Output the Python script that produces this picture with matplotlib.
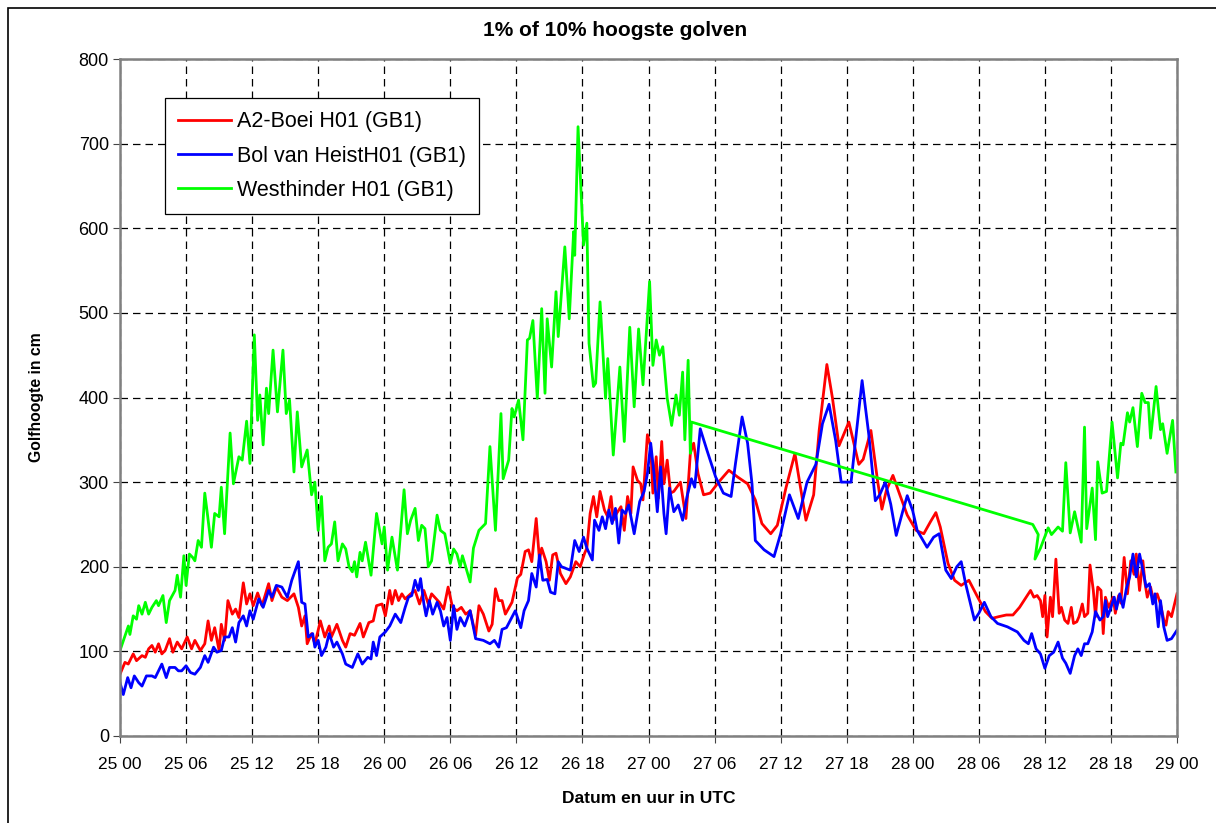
import matplotlib
matplotlib.use("Agg")
import matplotlib.pyplot as plt
from matplotlib.patches import Rectangle

plt.rcParams['font.family'] = ['Liberation Sans', 'DejaVu Sans']

# hours since 25 00 UTC and wave heights (cm)
tick_labels = ["25 00", "25 06", "25 12", "25 18", "26 00", "26 06", "26 12", "26 18",
               "27 00", "27 06", "27 12", "27 18", "28 00", "28 06", "28 12", "28 18", "29 00"]
series_names = ["A2-Boei H01 (GB1)", "Bol van HeistH01 (GB1)", "Westhinder H01 (GB1)"]

red_h = [0, 0.45, 0.75, 1.2, 1.5, 2, 2.3, 2.6, 2.9, 3.2, 3.5, 3.8, 4.1, 4.5, 4.8, 5.2, 5.6, 6.1,
         6.5, 6.8, 7.3, 7.7, 8.0, 8.3, 8.6, 9.0, 9.2, 9.5, 9.8, 10.2, 10.5, 10.8, 11.2, 11.5,
         11.8, 12.1, 12.5, 12.9, 13.5, 13.8, 14.2, 14.7, 15.2, 15.8, 16.2, 16.5, 16.8, 17.0,
         17.4, 17.7, 18.2, 18.6, 19.0, 19.2, 19.7, 20.2, 20.5, 20.9, 21.3, 21.8, 22.1, 22.6,
         23.0, 23.3, 23.8, 24.1, 24.5, 24.7, 25.0, 25.3, 25.6, 25.9, 26.4, 26.8, 27.2, 27.6,
         28.0, 28.3, 29.0, 29.4, 29.8, 30.2, 30.6, 31.0, 31.4, 31.8, 32.3, 32.6, 33.0, 33.5,
         33.8, 34.1, 34.4, 34.7, 35.0, 35.6, 36.1, 36.4, 36.8, 37.1, 37.4, 37.8, 38.1, 38.3,
         38.7, 39.0, 39.3, 39.6, 40.0, 40.5, 40.9, 41.4, 41.8, 42.2, 42.4, 42.7, 43.0, 43.3,
         43.6, 44.0, 44.3, 44.6, 44.8, 45.1, 45.5, 45.8, 46.1, 46.4, 46.6, 47.0, 47.3, 47.5,
         47.9, 48.2, 48.4, 48.7, 48.9, 49.2, 49.4, 49.7, 50.0, 50.3, 50.9, 51.4, 51.8, 52.1,
         52.5, 53.0, 53.6, 54.5, 55.3, 56.1, 57.0, 57.7, 58.3, 59.1, 59.7, 60.5, 61.3, 61.8,
         62.3, 63.0, 63.5, 64.2, 64.7, 65.3, 66.2, 67.1, 67.5, 68.2, 68.8, 69.2, 69.6, 70.2,
         70.8, 71.5, 72.3, 73.0, 73.6, 74.1, 74.5, 75.2, 75.8, 76.4, 77.1, 77.9, 78.6, 79.2,
         79.8, 80.5, 81.1, 81.7, 82.3, 82.7, 83.0, 83.3, 83.6, 83.8, 84.0, 84.2, 84.5, 84.7,
         85.0, 85.3, 85.5, 85.8, 86.1, 86.4, 86.6, 86.9, 87.1, 87.4, 87.6, 87.9, 88.1, 88.4,
         88.6, 88.8, 89.1, 89.3, 89.5, 89.8, 90.2, 90.4, 90.7, 90.9, 91.2, 91.5, 91.8, 92.1,
         92.3, 92.6, 92.9, 93.1, 93.3, 93.6, 93.9, 94.2, 94.5, 94.8, 95.0, 95.2, 95.5, 96.0]
red_v = [73, 87, 85, 97, 89, 95, 93, 103, 107, 99, 109, 97, 101, 115, 99, 111, 103, 117,
         103, 113, 101, 109, 136, 113, 128, 101, 132, 113, 160, 144, 150, 140, 181, 156,
         168, 154, 169, 154, 180, 160, 176, 164, 160, 168, 152, 130, 142, 109,
         121, 109, 136, 117, 130, 117, 132, 113, 105, 121, 119, 133, 117, 134,
         136, 154, 156, 142, 172, 156, 172, 160, 168, 162, 168, 172, 156, 172,
         156, 168, 158, 150, 176, 152, 148, 152, 144, 148, 119, 154, 144, 124,
         132, 174, 160, 160, 144, 158, 187, 191, 218, 220, 206, 257, 208, 222,
         206, 184, 214, 216, 192, 180, 188, 206, 200, 216, 222, 263, 283, 259,
         289, 267, 259, 283, 255, 263, 271, 243, 283, 263, 318, 302, 298, 279,
         356, 342, 287, 330, 281, 348, 298, 326, 287, 289, 300, 257, 334, 346,
         310, 285, 287, 302, 314, 306, 298, 279, 251, 239, 249, 294, 334, 294,
         255, 285, 361, 439, 400, 343, 371, 321, 327, 361, 302, 268, 290, 308,
         286, 261, 243, 239, 253, 264, 247, 204, 184, 178, 184, 164, 147, 139,
         141, 143, 143, 152, 164, 172, 164, 166, 160, 141, 166, 117, 164, 141,
         209, 145, 152, 137, 133, 152, 133, 135, 141, 156, 141, 145, 202, 172,
         141, 176, 172, 121, 164, 152, 164, 145, 166, 157, 211, 168, 207, 191,
         215, 172, 207, 180, 164, 176, 158, 168, 156, 137, 131, 147, 141, 168]

blue_h = [0, 0.3, 0.7, 1.0, 1.3, 1.7, 2.0, 2.4, 2.9, 3.2, 3.8, 4.2, 4.5, 5.0, 5.3, 5.6, 6.0,
          6.4, 6.8, 7.3, 7.7, 8.0, 8.5, 8.8, 9.2, 9.5, 9.9, 10.2, 10.5, 10.8, 11.2, 11.5,
          11.8, 12.1, 12.6, 13.0, 13.5, 13.8, 14.2, 14.7, 15.2, 15.6, 16.2, 16.5, 16.8, 17.1,
          17.5, 17.7, 18.0, 18.3, 18.7, 19.0, 19.4, 19.7, 20.2, 20.5, 21.1, 21.6, 22.0, 22.5,
          22.8, 23.0, 23.3, 23.6, 24.1, 24.5, 25.0, 25.5, 25.9, 26.2, 26.5, 26.8, 27.1, 27.3,
          27.6, 27.8, 28.1, 28.4, 28.8, 29.1, 29.4, 29.7, 30.0, 30.3, 30.6, 30.9, 31.3, 31.8,
          32.3, 33.0, 33.6, 34.0, 34.4, 34.7, 35.1, 35.5, 35.9, 36.4, 36.7, 37.1, 37.4, 37.8,
          38.1, 38.4, 38.8, 39.1, 39.5, 39.8, 40.1, 40.5, 40.9, 41.3, 41.7, 42.1, 42.4, 42.9,
          43.1, 43.5, 43.8, 44.1, 44.4, 44.7, 45.0, 45.3, 45.6, 45.9, 46.2, 46.7, 47.2, 47.6,
          47.9, 48.2, 48.5, 48.8, 49.1, 49.4, 49.6, 49.9, 50.3, 50.7, 51.1, 51.5, 51.9, 52.2,
          52.7, 53.3, 54.1, 54.8, 55.5, 55.9, 56.5, 57.0, 57.4, 57.7, 58.5, 59.4, 60.0, 60.8,
          61.6, 62.4, 63.2, 63.8, 64.4, 65.0, 65.5, 66.4, 66.8, 67.4, 68.0, 68.6, 69.0, 69.5,
          70.0, 70.5, 71.1, 71.5, 72.0, 72.4, 73.3, 73.9, 74.4, 75.0, 75.5, 76.0, 76.4, 76.8,
          77.6, 78.0, 78.5, 79.1, 79.7, 80.6, 81.5, 82.1, 82.5, 82.8, 83.2, 83.6, 84.0, 84.4,
          84.8, 85.2, 85.6, 85.9, 86.3, 86.7, 87.0, 87.3, 87.6, 87.9, 88.3, 88.6, 89.0, 89.3,
          89.5, 89.7, 90.0, 90.3, 90.5, 90.8, 91.1, 91.4, 91.7, 92.0, 92.3, 92.6, 92.9, 93.2,
          93.5, 93.8, 94.0, 94.3, 94.5, 94.8, 95.1, 95.5, 96.0]
blue_v = [63, 49, 69, 57, 71, 63, 59, 71, 71, 69, 85, 69, 81, 81, 77, 77, 83,
          75, 73, 81, 95, 87, 105, 99, 101, 117, 117, 128, 111, 134, 142, 130,
          148, 138, 162, 152, 172, 164, 178, 176, 164, 184, 206, 158, 156, 117,
          121, 105, 113, 95, 105, 121, 105, 111, 97, 85, 81, 97, 85, 93,
          91, 111, 95, 117, 123, 130, 144, 134, 152, 164, 166, 184, 172, 186,
          156, 142, 160, 144, 158, 148, 130, 140, 113, 154, 126, 140, 130, 148,
          115, 113, 109, 113, 105, 126, 128, 138, 148, 128, 148, 160, 192, 176,
          214, 184, 185, 170, 168, 206, 200, 198, 196, 231, 218, 235, 222, 208,
          255, 243, 259, 245, 267, 251, 269, 228, 267, 263, 273, 239, 277, 289,
          310, 346, 310, 265, 318, 263, 239, 293, 265, 273, 255, 283, 304, 294,
          363, 338, 306, 287, 283, 322, 377, 346, 298, 231, 220, 212, 239, 285,
          257, 300, 321, 369, 392, 349, 300, 300, 349, 420, 357, 278, 285, 300,
          274, 237, 266, 284, 266, 243, 223, 235, 239, 196, 186, 200, 206, 180,
          137, 145, 158, 141, 133, 129, 123, 113, 109, 121, 103, 97, 80, 95,
          99, 111, 92, 86, 74, 95, 103, 95, 109, 109, 123, 147, 137, 141,
          160, 141, 152, 164, 150, 168, 152, 174, 188, 215, 188, 215, 196, 176,
          180, 156, 168, 129, 160, 129, 113, 115, 125]

green_h = [0, 0.76, 0.9, 1.2, 1.5, 1.7, 2.0, 2.3, 2.6, 2.9, 3.3, 3.5, 3.9, 4.2, 4.5, 5.0, 5.2,
           5.5, 5.8, 6.0, 6.3, 6.6, 6.8, 7.1, 7.4, 7.7, 7.97, 8.3, 8.6, 9.0, 9.2, 9.5, 10.0,
           10.3, 10.8, 11.1, 11.5, 11.8, 12.0, 12.2, 12.5, 12.7, 13.0, 13.3, 13.5, 13.9, 14.3,
           14.8, 15.1, 15.4, 15.8, 16.1, 16.5, 17.0, 17.4, 17.7, 18.0, 18.3, 18.6, 18.9, 19.2,
           19.5, 19.8, 20.2, 20.5, 20.8, 21.1, 21.3, 21.5, 21.8, 22.0, 22.3, 22.8, 23.3, 23.8,
           24.0, 24.3, 24.7, 25.2, 25.8, 26.1, 26.4, 26.8, 27.1, 27.4, 27.7, 28.0, 28.3, 28.8,
           29.1, 29.5, 30.0, 30.3, 30.6, 30.9, 31.1, 31.8, 32.1, 32.6, 33.2, 33.6, 34.1, 34.6,
           34.8, 35.3, 35.6, 35.8, 36.2, 36.6, 37.0, 37.2, 37.5, 37.9, 38.3, 38.6, 38.8, 39.2,
           39.6, 39.8, 40.4, 40.8, 41.2, 41.3, 41.6, 42.1, 42.4, 42.6, 43.0, 43.2, 43.6, 44.1,
           44.3, 44.8, 45.4, 45.8, 46.3, 46.7, 47.1, 47.5, 48.1, 48.4, 48.7, 49.0, 49.3, 49.7,
           50.1, 50.5, 50.8, 51.1, 51.3, 51.6, 51.8, 51.9, 82.9, 83.4, 83.1, 83.6, 84.3, 84.6,
           85.2, 85.6, 85.9, 86.3, 86.7, 87.3, 87.6, 87.8, 88.3, 88.6, 88.8, 89.2, 89.6, 90.1,
           90.6, 90.9, 91.1, 91.5, 91.7, 92.0, 92.4, 92.8, 93.1, 93.4, 93.6, 94.1, 94.5, 94.7,
           95.1, 95.6, 95.9]
green_v = [101, 130, 120, 142, 138, 154, 144, 158, 144, 152, 160, 154, 166, 134, 160, 172, 190,
           164, 213, 178, 215, 211, 207, 231, 223, 287, 259, 223, 263, 259, 294, 239, 358,
           298, 330, 326, 372, 322, 401, 474, 373, 403, 344, 411, 381, 456, 383,
           456, 381, 397, 312, 383, 318, 338, 285, 300, 243, 283, 207, 223, 227,
           253, 207, 227, 221, 200, 194, 206, 188, 217, 207, 229, 190, 263, 227,
           247, 196, 235, 196, 291, 239, 255, 269, 231, 249, 245, 200, 207, 261,
           243, 239, 204, 221, 215, 200, 213, 182, 222, 243, 251, 342, 243, 381,
           304, 326, 387, 377, 397, 350, 468, 470, 491, 399, 505, 405, 493, 436,
           525, 472, 578, 493, 596, 568, 720, 580, 606, 464, 413, 417, 513, 399,
           446, 332, 436, 348, 483, 389, 481, 415, 537, 438, 468, 450, 460, 399,
           367, 403, 379, 430, 350, 444, 334, 371, 250, 238, 209, 222, 246, 238,
           247, 242, 323, 240, 265, 229, 365, 245, 293, 232, 324, 287, 289, 371,
           305, 346, 344, 382, 371, 388, 342, 405, 394, 394, 352, 413, 362, 369,
           334, 373, 312]

fig = plt.figure(figsize=(12.16, 8.23), dpi=100)
ax = fig.add_axes([120 / 1216, 1 - 736 / 823, 1057 / 1216, 677 / 823])

ax.plot(red_h, red_v, color="#ff0000", lw=2.0, label=series_names[0], solid_joinstyle="round")
ax.plot(blue_h, blue_v, color="#0000ff", lw=2.0, label=series_names[1], solid_joinstyle="round")
ax.plot(green_h, green_v, color="#00ff00", lw=2.0, label=series_names[2], solid_joinstyle="round")

ax.set_xlim(0, 96)
ax.set_ylim(0, 800)
ax.set_xticks(range(0, 97, 6))
ax.set_xticklabels(tick_labels, fontsize=12.5)
ax.set_yticks(range(0, 801, 100))
ax.tick_params(axis="y", labelsize=13, direction="out", length=5, pad=3, color="#444444")
ax.tick_params(axis="x", direction="out", length=5, pad=10, color="#444444")
ax.grid(True, color="black", linestyle=(0, (6, 4)), linewidth=0.9)
ax.set_axisbelow(True)
for s in ax.spines.values():
    s.set_color("#808080")
    s.set_linewidth(1.8)

ax.set_xlabel("Datum en uur in UTC", fontsize=12.5, fontweight="bold", labelpad=14)
ax.set_ylabel("Golfhoogte in cm", fontsize=11.3, fontweight="bold", labelpad=25)

leg = ax.legend(loc="upper left", bbox_to_anchor=(0.0426, 0.942), fontsize=15.5,
                frameon=True, fancybox=False, edgecolor="black", framealpha=1,
                borderpad=0.6, labelspacing=0.62, handlelength=2.45, handletextpad=0.28,
                borderaxespad=0)
leg.get_frame().set_linewidth(0.9)

fig.text(615 / 1216, 1 - 30 / 823, "1% of 10% hoogste golven", fontsize=15,
         fontweight="bold", ha="center", va="center")

fig.patches.append(Rectangle((8 / 1216, -0.01), 1.0, 1 - 8 / 823 + 0.01,
                             transform=fig.transFigure, fill=False, edgecolor="black",
                             linewidth=1.2, clip_on=False))

fig.savefig("out.png", dpi=100)
